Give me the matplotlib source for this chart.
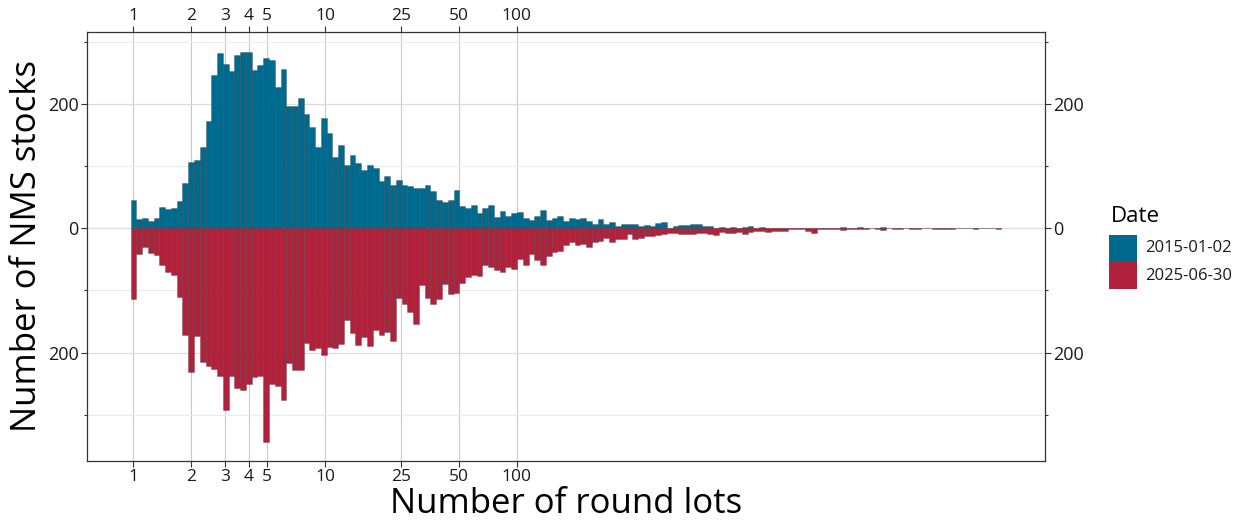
import numpy as np
import matplotlib
matplotlib.use("Agg")
import matplotlib.pyplot as plt
from matplotlib.patches import Rectangle
from matplotlib.ticker import FixedLocator, FuncFormatter

plt.rcParams['font.family'] = ['Open Sans', 'DejaVu Sans']

# histogram counts, one bin per 0.1 in log2(round lots), starting at 1 round lot
counts_2015 = [
    46, 14, 16, 12, 16, 34, 30, 33, 44, 72,
    106, 110, 130, 173, 246, 281, 264, 253, 278, 284,
    284, 254, 262, 274, 271, 227, 256, 197, 196, 210,
    184, 163, 130, 177, 153, 115, 134, 102, 117, 104,
    94, 101, 97, 76, 84, 70, 78, 70, 67, 65,
    65, 69, 59, 46, 42, 46, 61, 35, 33, 38,
    24, 33, 38, 18, 27, 19, 24, 26, 17, 13,
    20, 29, 13, 16, 19, 11, 17, 14, 16, 11,
    6, 14, 6, 10, 3, 6, 6, 6, 3, 5,
    4, 9, 10, 1, 4, 5, 5, 7, 6, 4,
    3, 1, 2, 1, 2, 1, 2, 4, 1, 2,
    1, 1, 0, 1, 1, 1, 0, 0, 1, 0,
    0, 0, 0, 2, 0, 0, 2, 0, 0, 0,
    2, 0, 0, 0, 0, 1, 0, 0, 0, 0,
    0, 0, 1, 0, 0, 0, 0, 0, 0, 1,
    0,
]
counts_2025 = [
    114, 42, 30, 40, 43, 59, 70, 76, 110, 172,
    232, 174, 215, 222, 226, 238, 293, 237, 257, 260,
    251, 239, 238, 343, 251, 254, 277, 217, 228, 228,
    184, 196, 192, 204, 191, 193, 186, 148, 169, 188,
    175, 189, 163, 172, 167, 182, 112, 122, 135, 154,
    91, 113, 122, 114, 89, 106, 104, 88, 78, 76,
    77, 60, 62, 68, 70, 62, 66, 49, 59, 42,
    51, 59, 45, 38, 36, 27, 23, 27, 25, 30,
    23, 21, 16, 22, 17, 17, 10, 17, 16, 13,
    12, 11, 10, 8, 7, 9, 10, 9, 8, 8,
    9, 11, 6, 8, 8, 6, 9, 6, 4, 4,
    6, 5, 5, 4, 2, 2, 1, 5, 8, 2,
    1, 1, 1, 3, 1, 2, 2, 1, 0, 1,
    3, 0, 2, 2, 0, 2, 2, 0, 0, 2,
    2, 2, 2, 0, 0, 0, 2, 0, 0, 0,
    2,
]
dates = ['2015-01-02', '2025-06-30']
colors = ['#006A8E', '#B0223B']
x_breaks = [1, 2, 3, 4, 5, 10, 25, 50, 100]

bw = 0.1  # bin width in log2 units
centers = np.arange(len(counts_2015)) * bw
left = 2 ** (centers - bw / 2)
right = 2 ** (centers + bw / 2)

W, H = 1242, 522
fig = plt.figure(figsize=(W / 100, H / 100), dpi=100)
ax = fig.add_axes([87 / W, 1 - 461 / H, (1045 - 87) / W, (461 - 32) / H])

ax.bar(left, counts_2015, width=right - left, align='edge', color=colors[0],
       edgecolor=(0, 0, 0, 0.35), linewidth=0.4, zorder=3)
ax.bar(left, -np.array(counts_2025), width=right - left, align='edge', color=colors[1],
       edgecolor=(0, 0, 0, 0.35), linewidth=0.4, zorder=3)

ax.set_xscale('log', base=2)
lo, hi = centers[0] - bw / 2, centers[-1] + bw / 2
pad = 0.05 * (hi - lo)
ax.set_xlim(2 ** (lo - pad), 2 ** (hi + pad))
ymax = max(counts_2015)
ymin = -max(counts_2025)
ypad = 0.05 * (ymax - ymin)
ax.set_ylim(ymin - ypad, ymax + ypad)

ax.xaxis.set_major_locator(FixedLocator(x_breaks))
ax.xaxis.set_major_formatter(FuncFormatter(lambda v, p: f"{v:g}"))
ax.xaxis.set_minor_locator(FixedLocator([]))
ax.yaxis.set_major_locator(FixedLocator([-200, 0, 200]))
ax.yaxis.set_minor_locator(FixedLocator([-300, -100, 100, 300]))
ax.yaxis.set_major_formatter(FuncFormatter(lambda v, p: f"{abs(v):.0f}"))

ax.tick_params(which='major', direction='out', length=4, width=0.8, color='#333333',
               labelsize=12.5, labelcolor='#1a1a1a', top=True, labeltop=True,
               right=True, labelright=True, pad=2)
ax.tick_params(axis='y', which='major', labelsize=13)
ax.tick_params(which='minor', direction='out', length=2, width=0.8, color='#333333',
               right=True)

ax.grid(True, axis='x', which='major', color='#c9c9c9', linewidth=0.8, zorder=0)
ax.grid(True, axis='y', which='major', color='#dcdcdc', linewidth=0.9, zorder=0)
ax.grid(True, axis='y', which='minor', color='#ececec', linewidth=0.8, zorder=0)
ax.set_axisbelow(True)
for s in ax.spines.values():
    s.set_color('#333333')
    s.set_linewidth(0.9)

ax.set_xlabel('Number of round lots', fontsize=25, labelpad=1)
ax.set_ylabel('Number of NMS stocks', fontsize=25, labelpad=3)

# legend drawn by hand, in figure pixels
fig.text(1111 / W, 1 - 222 / H, 'Date', fontsize=16, ha='left', va='baseline')
for i, (lab, c) in enumerate(zip(dates, colors)):
    y0 = 235 + i * 27
    fig.add_artist(Rectangle((1109 / W, 1 - (y0 + 27) / H), 28 / W, 27 / H,
                             transform=fig.transFigure, facecolor=c, edgecolor='none'))
    fig.text(1145 / W, 1 - (y0 + 13.5) / H, lab, fontsize=12, ha='left', va='center',
             color='#1a1a1a')

fig.savefig('out.png', dpi=100)
